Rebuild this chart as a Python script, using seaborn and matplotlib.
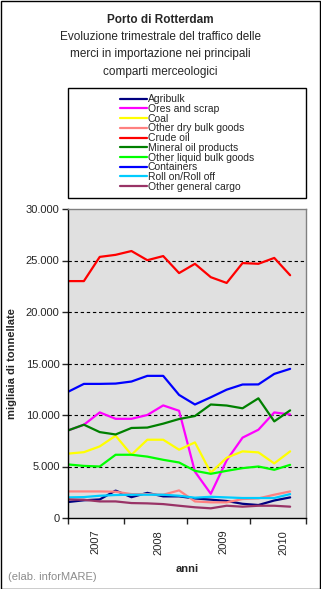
import matplotlib
matplotlib.use("Agg")
import matplotlib.pyplot as plt
import numpy as np
import pandas as pd
import seaborn as sns
from matplotlib.patches import Rectangle
from matplotlib.lines import Line2D
from matplotlib.ticker import FuncFormatter, FixedLocator

# ---- data (thousand tonnes, quarterly 2007 Q1 .. 2010 Q3) ----
quarters = list(range(15))
years = ["2007", "2008", "2009", "2010"]
series_names = ["Agribulk", "Ores and scrap", "Coal", "Other dry bulk goods",
                "Crude oil", "Mineral oil products", "Other liquid bulk goods",
                "Containers", "Roll on/Roll off", "Other general cargo"]
agribulk = [1550, 1720, 1800, 2660, 2020, 2440, 2100, 2100, 1900, 1780, 1650, 1380, 1260, 1700, 2000]
ores_scrap = [8500, 9050, 10250, 9630, 9630, 10000, 10930, 10410, 4500, 2350, 5600, 7800, 8570, 10250, 10050]
coal = [6250, 6390, 6950, 7990, 6140, 7600, 7600, 6630, 7340, 4400, 5850, 6470, 6370, 5300, 6470]
other_dry = [2580, 2580, 2580, 2550, 2320, 2320, 2260, 2680, 1610, 1520, 1520, 1840, 1900, 2260, 2580]
crude_oil = [23000, 23000, 25350, 25550, 25920, 25030, 25430, 23780, 24680, 23380, 22820, 24750, 24680, 25250, 23570]
mineral_oil = [8500, 9060, 8340, 8110, 8740, 8780, 9160, 9610, 9900, 11020, 10920, 10650, 11620, 9380, 10450]
other_liquid = [5200, 5060, 5000, 6140, 6140, 5960, 5650, 5390, 4580, 4290, 4580, 4840, 5000, 4680, 5160]
containers = [12250, 13020, 13020, 13050, 13250, 13800, 13800, 11950, 11020, 11720, 12460, 12960, 12970, 13990, 14480]
roro = [2000, 2030, 2160, 2230, 2260, 2260, 2260, 2160, 1970, 2060, 2000, 1940, 1940, 1940, 2320]
other_general = [1800, 1770, 1610, 1610, 1450, 1420, 1350, 1190, 1040, 940, 1190, 1100, 1190, 1190, 1100]

all_values = [agribulk, ores_scrap, coal, other_dry, crude_oil, mineral_oil,
              other_liquid, containers, roro, other_general]
colors = ["#000080", "#FF00FF", "#FFFF00", "#FF8080", "#FF0000",
          "#008000", "#00FF00", "#0000FF", "#00CCFF", "#993366"]

rows = []
for name, vals in zip(series_names, all_values):
    for q, v in zip(quarters, vals):
        rows.append({"quarter": q, "value": v, "series": name})
df = pd.DataFrame(rows)

sns.set_style("white")
plt.rcParams["font.family"] = ["Liberation Sans", "DejaVu Sans"]

W, H = 321, 589
fig = plt.figure(figsize=(W / 100, H / 100), dpi=100)
fig.patch.set_facecolor("white")

# figure border
fig.patches.append(Rectangle((0.5 / W, 0.5 / H), 1 - 1.5 / W, 1 - 1.5 / H,
                             transform=fig.transFigure, fill=False,
                             edgecolor="black", linewidth=1.0))

ax = fig.add_axes([68 / W, 1 - 518 / H, (306 - 68) / W, (518 - 209) / H])
ax.set_facecolor("#E0E0E0")

palette = dict(zip(series_names, colors))
sns.lineplot(data=df, x="quarter", y="value", hue="series", hue_order=series_names,
             palette=palette, linewidth=1.6, ax=ax, legend=False)

ax.set_xlim(0, 15)
ax.set_ylim(0, 30000)

# grid
for yv in [5000, 10000, 15000, 20000, 25000]:
    ax.axhline(yv, color="black", linestyle=(0, (3, 2.5)), linewidth=0.8, zorder=0.5)

# spines
for s in ["top", "right"]:
    ax.spines[s].set_color("#808080")
    ax.spines[s].set_linewidth(1.0)
for s in ["left", "bottom"]:
    ax.spines[s].set_color("black")
    ax.spines[s].set_linewidth(1.0)

# y axis
ax.set_yticks([0, 5000, 10000, 15000, 20000, 25000, 30000])
ax.yaxis.set_major_formatter(FuncFormatter(lambda v, p: f"{int(v):,}".replace(",", ".")))
ax.tick_params(axis="y", direction="out", length=4, width=1, pad=2, labelsize=8, left=True)

# x axis: ticks at year boundaries, labels at year centres
ax.xaxis.set_major_locator(FixedLocator([0, 3.5, 7.5, 11.5, 15]))
ax.xaxis.set_major_formatter(FuncFormatter(lambda v, p: ""))
ax.xaxis.set_minor_locator(FixedLocator([1.72, 5.72, 9.78, 13.6]))
ax.set_xticklabels(years, minor=True, rotation=90, fontsize=8)
ax.tick_params(axis="x", which="major", direction="out", length=4, width=1, bottom=True)
ax.tick_params(axis="x", which="minor", length=0, pad=8.5)

ax.set_xlabel("anni", fontsize=8, fontweight="bold")
ax.xaxis.set_label_coords(0.5, -0.148)
ax.set_ylabel("migliaia di tonnellate", fontsize=8, fontweight="bold")
ax.yaxis.set_label_coords(-0.215, 0.5)

# titles
fig.text(160.5 / W, 1 - 20 / H, "Porto di Rotterdam", ha="center", va="center",
         fontsize=8.5, fontweight="bold")
for i, line in enumerate(["Evoluzione trimestrale del traffico delle",
                          "merci in importazione nei principali",
                          "comparti merceologici"]):
    fig.text(160.5 / W, 1 - (37.5 + 17 * i) / H, line, ha="center", va="center", fontsize=8.5)

# legend box
lx0, lx1, ly0, ly1 = 68, 306, 88, 198
fig.patches.append(Rectangle((lx0 / W, 1 - ly1 / H), (lx1 - lx0) / W, (ly1 - ly0) / H,
                             transform=fig.transFigure, facecolor="white",
                             edgecolor="black", linewidth=1.0))
handles = [Line2D([], [], color=c, linewidth=1.6) for c in colors]
leg = fig.legend(handles, series_names, loc="center",
                 bbox_to_anchor=((lx0 + lx1) / 2 / W, 1 - (ly0 + ly1) / 2 / H),
                 frameon=False, fontsize=7.5, labelspacing=-0.03, handlelength=2.6,
                 handletextpad=0.1, borderpad=0, borderaxespad=0)

fig.text(8 / W, 1 - 577 / H, "(elab. inforMARE)", ha="left", va="center",
         fontsize=8, color="#8C8C8C")

fig.savefig("out.png", dpi=100)
